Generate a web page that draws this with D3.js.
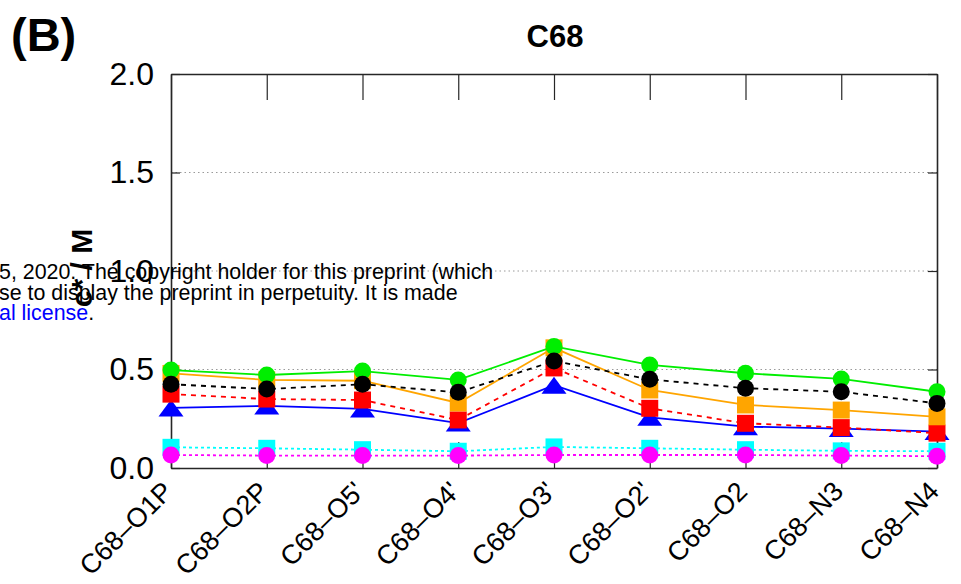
<!DOCTYPE html>
<html>
<head>
<meta charset="utf-8">
<script src="https://cdn.jsdelivr.net/npm/d3@7"></script>
<style>
  html, body { margin: 0; padding: 0; background: #fff; }
  svg { display: block; font-family: "Liberation Sans", Arial, Helvetica, sans-serif; }
</style>
</head>
<body>
<svg id="chart" width="961" height="584"></svg>
<script>
// Contact pairs along the x axis
const categories = ["C68–O1P", "C68–O2P", "C68–O5'", "C68–O4'", "C68–O3'", "C68–O2'", "C68–O2", "C68–N3", "C68–N4"];

// Series values, one per contact pair
const greenVals   = [0.497, 0.472, 0.492, 0.447, 0.617, 0.523, 0.481, 0.452, 0.387];
const orangeVals  = [0.480, 0.447, 0.443, 0.330, 0.610, 0.396, 0.320, 0.294, 0.260];
const blackVals   = [0.425, 0.401, 0.425, 0.384, 0.543, 0.450, 0.405, 0.387, 0.328];
const redVals     = [0.375, 0.350, 0.345, 0.244, 0.508, 0.303, 0.227, 0.205, 0.177];
const blueVals    = [0.305, 0.315, 0.300, 0.228, 0.420, 0.257, 0.210, 0.200, 0.185];
const cyanVals    = [0.105, 0.100, 0.093, 0.085, 0.107, 0.100, 0.093, 0.087, 0.085];
const magentaVals = [0.066, 0.063, 0.063, 0.063, 0.066, 0.066, 0.066, 0.063, 0.060];

const yTicks = [0, 0.5, 1.0, 1.5, 2.0];
const gridTicks = [0.5, 1.0, 1.5];

// Drawing order, bottom to top
const series = [
  { values: blueVals,    color: "#0000ff", dash: null,  marker: "triangle" },
  { values: redVals,     color: "#ff0000", dash: "5,5", marker: "square" },
  { values: orangeVals,  color: "#ffa500", dash: null,  marker: "square" },
  { values: greenVals,   color: "#00ee00", dash: null,  marker: "circle" },
  { values: blackVals,   color: "#000000", dash: "5,5", marker: "circle" },
  { values: cyanVals,    color: "#00ffff", dash: "3,3", marker: "square" },
  { values: magentaVals, color: "#ff00ff", dash: "3,3", marker: "circle" }
];

const svg = d3.select("#chart");
const plotLeft = 171, plotRight = 937, plotTop = 74, plotBottom = 468;

const x = d3.scalePoint().domain(categories).range([plotLeft, plotRight]);
const y = d3.scaleLinear().domain([0, 2]).range([plotBottom, plotTop]);

// dotted horizontal grid
svg.append("g").selectAll("line").data(gridTicks).join("line")
  .attr("x1", plotLeft).attr("x2", plotRight)
  .attr("y1", d => y(d)).attr("y2", d => y(d))
  .attr("stroke", "#9a9a9a").attr("stroke-width", 1)
  .attr("stroke-dasharray", "1.5,3");

const frameColor = "#262626";
function styleAxis(g) {
  g.select(".domain").attr("stroke", frameColor).attr("stroke-width", 1.6);
  g.selectAll(".tick line").attr("stroke", frameColor).attr("stroke-width", 1.2);
}

// left axis with labels
const yAxisL = svg.append("g").attr("transform", `translate(${plotLeft},0)`)
  .call(d3.axisLeft(y).tickValues(yTicks).tickFormat(d3.format(".1f"))
    .tickSize(-9).tickSizeOuter(0).tickPadding(17))
  .call(styleAxis);
yAxisL.selectAll("text")
  .attr("font-size", 32).attr("fill", "#000")
  .attr("font-family", "'Liberation Sans', Arial, sans-serif");

// right axis
svg.append("g").attr("transform", `translate(${plotRight},0)`)
  .call(d3.axisRight(y).tickValues(yTicks).tickFormat("").tickSize(-9).tickSizeOuter(0))
  .call(styleAxis);

// top axis
svg.append("g").attr("transform", `translate(0,${plotTop})`)
  .call(d3.axisTop(x).tickFormat("").tickSize(-26).tickSizeOuter(0))
  .call(styleAxis);

// bottom axis with rotated category labels
const xAxisB = svg.append("g").attr("transform", `translate(0,${plotBottom})`)
  .call(d3.axisBottom(x).tickSize(-26).tickSizeOuter(0))
  .call(styleAxis);
xAxisB.selectAll("text")
  .attr("x", 0).attr("y", 0).attr("dy", 0)
  .attr("text-anchor", "end")
  .attr("font-size", 27).attr("fill", "#000")
  .attr("font-family", "'Liberation Sans', Arial, sans-serif")
  .attr("transform", "translate(3,25) rotate(-45)");

// series lines and markers
const line = d3.line().x((d, i) => x(categories[i])).y(d => y(d));

function markerPath(kind, cx, cy) {
  if (kind === "square") {
    const h = 8.5;
    return `M${cx - h},${cy - h}h${2 * h}v${2 * h}h${-2 * h}Z`;
  }
  if (kind === "triangle") {
    const w = 12.5, h = 8.5;
    return `M${cx},${cy - h}L${cx + w},${cy + h}L${cx - w},${cy + h}Z`;
  }
  return null;
}

series.forEach(s => {
  const g = svg.append("g");
  g.append("path")
    .attr("d", line(s.values))
    .attr("fill", "none")
    .attr("stroke", s.color)
    .attr("stroke-width", 1.8)
    .attr("stroke-dasharray", s.dash);
  const pts = s.values.map((v, i) => ({ cx: x(categories[i]), cy: y(v) }));
  if (s.marker === "circle") {
    g.selectAll("circle").data(pts).join("circle")
      .attr("cx", d => d.cx).attr("cy", d => d.cy).attr("r", 8.5)
      .attr("fill", s.color);
  } else {
    g.selectAll("path.m").data(pts).join("path").attr("class", "m")
      .attr("d", d => markerPath(s.marker, d.cx, d.cy))
      .attr("fill", s.color);
  }
});

// titles
svg.append("text").attr("x", 555).attr("y", 47).attr("text-anchor", "middle")
  .attr("font-size", 31).attr("font-weight", "bold").text("C68");
svg.append("text").attr("x", 11).attr("y", 51)
  .attr("font-size", 47).attr("font-weight", "bold").text("(B)");

// y axis title
svg.append("text")
  .attr("transform", "translate(92,268) rotate(-90)")
  .attr("text-anchor", "middle")
  .attr("font-size", 30).attr("font-weight", "bold")
  .text("c* / M");

// preprint notice overlaid on the page
const note = svg.append("g").attr("font-size", 21.4).attr("fill", "#000");
note.append("text").attr("x", -1).attr("y", 279)
  .text("5, 2020. The copyright holder for this preprint (which");
note.append("text").attr("x", -1).attr("y", 300)
  .text("se to display the preprint in perpetuity. It is made");
const l3 = note.append("text").attr("x", -1).attr("y", 320);
l3.append("tspan").attr("fill", "#0000ff").text("al license");
l3.append("tspan").attr("fill", "#000").text(".");
</script>
</body>
</html>
